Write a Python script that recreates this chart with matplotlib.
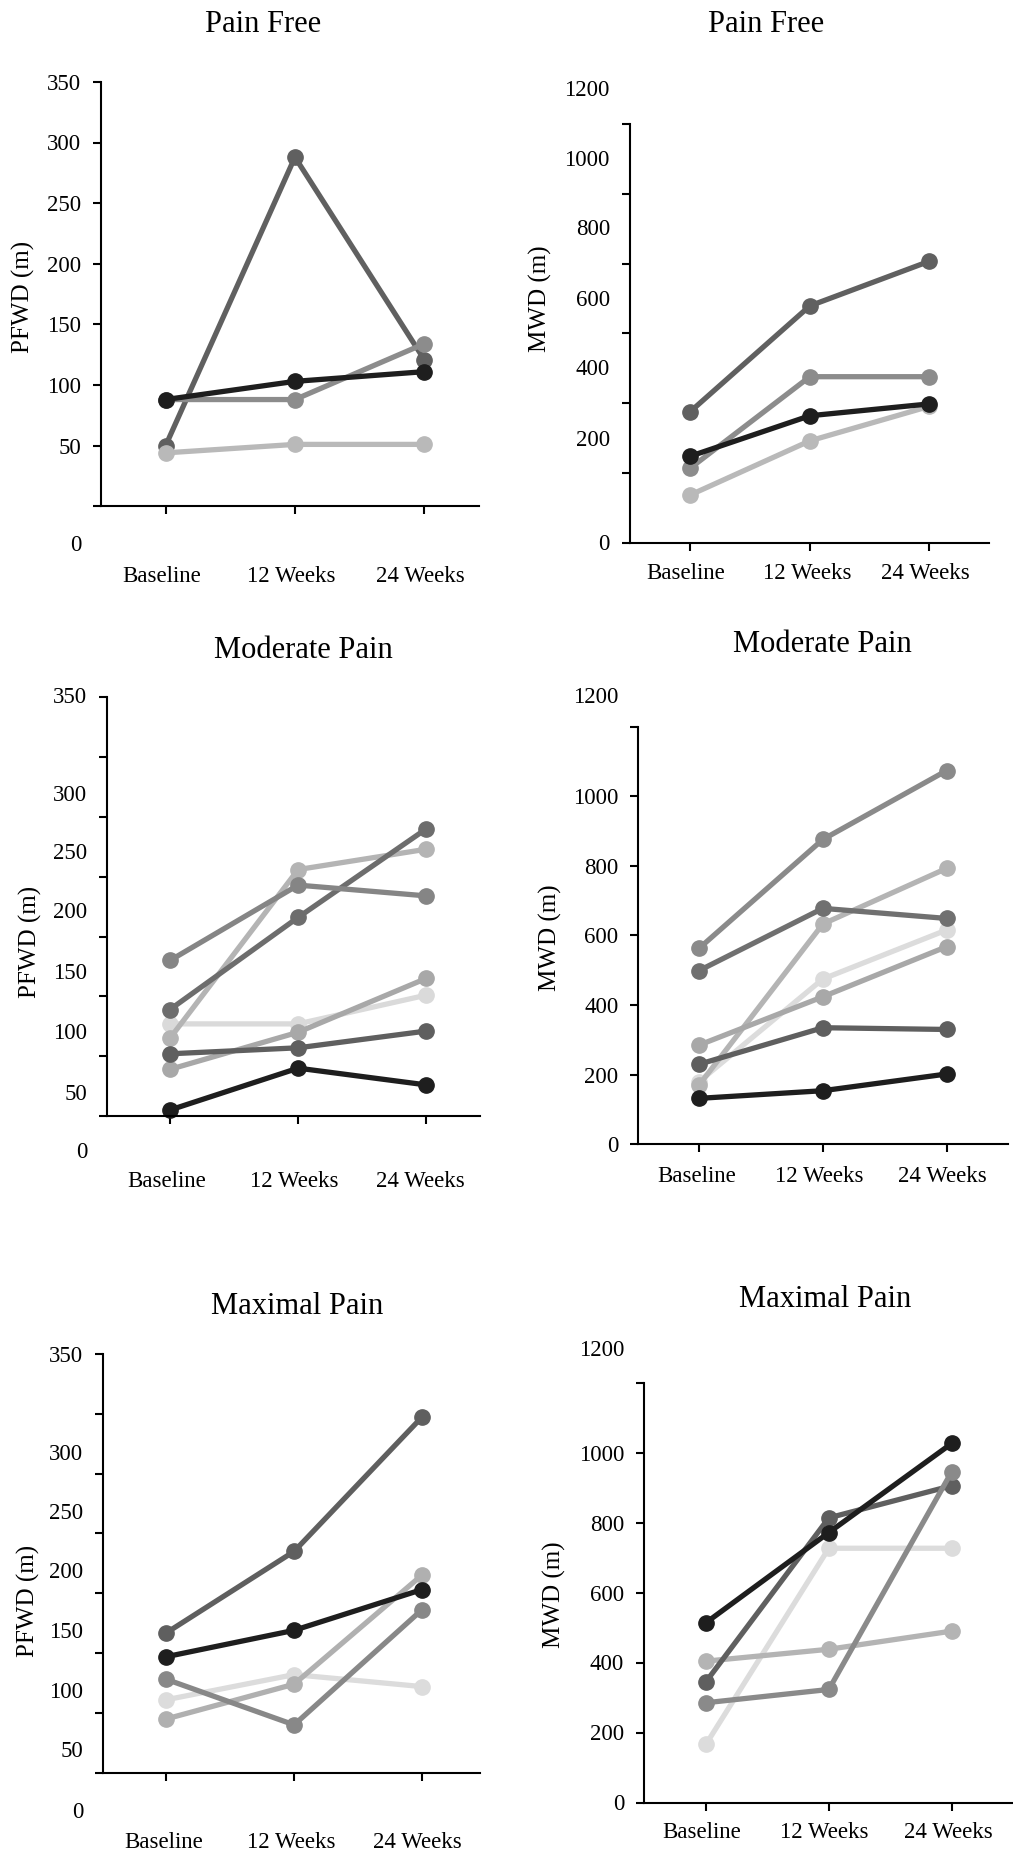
import matplotlib
matplotlib.use("Agg")
import matplotlib.pyplot as plt

plt.rcParams['font.family'] = ['Liberation Serif', 'DejaVu Serif']

W, H = 1013, 1851
timepoints = ['Baseline', '12 Weeks', '24 Weeks']

# ---- data (in units of the drawn tick scale) ----
pfwd_free = {
    '#606060': [50, 288, 121],
    '#8c8c8c': [88, 88, 134],
    '#1e1e1e': [88, 103, 111],
    '#b9b9b9': [44, 51, 51],
}
mwd_free = {
    '#606060': [376, 679, 807],
    '#8c8c8c': [214, 476, 476],
    '#b9b9b9': [137, 292, 391],
    '#1e1e1e': [248, 364, 398],
}
pfwd_moderate = {
    '#dadada': [77, 77, 101],
    '#a8a8a8': [39, 70, 115],
    '#b4b4b4': [65, 206, 223],
    '#5f5f5f': [52, 57, 71],
    '#6d6d6d': [89, 166, 240],
    '#858585': [130, 193, 184],
    '#1e1e1e': [5, 40, 26],
}
mwd_moderate = {
    '#dcdcdc': [180, 475, 616],
    '#b4b4b4': [170, 633, 793],
    '#a8a8a8': [285, 424, 568],
    '#5f5f5f': [230, 335, 330],
    '#707070': [499, 678, 649],
    '#8a8a8a': [563, 876, 1074],
    '#1e1e1e': [132, 154, 202],
}
pfwd_maximal = {
    '#dcdcdc': [61, 82, 72],
    '#b0b0b0': [45, 74, 165],
    '#888888': [78, 40, 136],
    '#5f5f5f': [117, 185, 297],
    '#1e1e1e': [97, 119, 153],
}
mwd_maximal = {
    '#dcdcdc': [167, 728, 728],
    '#b4b4b4': [405, 439, 491],
    '#5f5f5f': [346, 815, 907],
    '#8a8a8a': [286, 324, 947],
    '#1e1e1e': [515, 773, 1028],
}

pfwd_labels = ['350', '300', '250', '200', '150', '100', '50', '0']
mwd_labels = ['1200', '1000', '800', '600', '400', '200', '0']

# ---- layout, in pixels of the 1013x1851 output ----
panels = [
    dict(data=pfwd_free, title='Pain Free', ylabel='PFWD (m)', ymax=350, step=50,
         box=(101.4, 82, 479.3, 506.2), xlim=(-0.497, 2.426),
         title_xy=(263, 32), ylab_xy=(23.3, 296.6),
         tl_x=81.1, tl_y=[82, 142.8, 203.7, 264.5, 324.7, 385.5, 446, 543.4],
         xl_x=[161.9, 291.4, 420.1], xl_y=582.2),
    dict(data=mwd_free, title='Pain Free', ylabel='MWD (m)', ymax=1200, step=200,
         box=(629.5, 124.2, 989.4, 542.7), xlim=(-0.509, 2.503),
         title_xy=(766.5, 32), ylab_xy=(540.6, 299),
         tl_x=609.9, tl_y=[88.7, 158, 227.3, 298.3, 367.6, 438.6, 542.7],
         xl_x=[685.9, 807.2, 925.2], xl_y=578.8),
    dict(data=pfwd_moderate, title='Moderate Pain', ylabel='PFWD (m)', ymax=350, step=50,
         box=(106.7, 697.3, 480, 1116), xlim=(-0.494, 2.42),
         title_xy=(303, 657.7), ylab_xy=(30.7, 941.7),
         tl_x=87.3, tl_y=[695, 793.3, 851.7, 910, 971.7, 1031.7, 1092.3, 1150],
         xl_x=[166.3, 294.3, 420.7], xl_y=1186.7),
    dict(data=mwd_moderate, title='Moderate Pain', ylabel='MWD (m)', ymax=1200, step=200,
         box=(637.7, 726.7, 1008, 1144.3), xlim=(-0.495, 2.495),
         title_xy=(822, 651.7), ylab_xy=(550.5, 937.3),
         tl_x=618.3, tl_y=[695, 796, 866, 935.7, 1005, 1075, 1144.3],
         xl_x=[696.3, 819.2, 942.5], xl_y=1181.7),
    dict(data=pfwd_maximal, title='Maximal Pain', ylabel='PFWD (m)', ymax=350, step=50,
         box=(102.7, 1354, 480, 1772.7), xlim=(-0.5, 2.457),
         title_xy=(296.7, 1314.3), ylab_xy=(28.2, 1600.7),
         tl_x=83.3, tl_y=[1354, 1452.7, 1511.7, 1570.7, 1630.7, 1690.7, 1749.3, 1810],
         xl_x=[163.2, 291, 417.5], xl_y=1848),
    dict(data=mwd_maximal, title='Maximal Pain', ylabel='MWD (m)', ymax=1200, step=200,
         box=(644, 1383.3, 1011.7, 1802.7), xlim=(-0.504, 2.488),
         title_xy=(825.3, 1306.7), ylab_xy=(554.7, 1595),
         tl_x=624, tl_y=[1348.3, 1453.3, 1523.3, 1593.3, 1662.7, 1732.7, 1802.7],
         xl_x=[701.7, 824.7, 948.3], xl_y=1838.3),
]

TICK_FS = 16.5
LABEL_FS = 18
TITLE_FS = 22
DIGIT_HALF = 7.7   # px from visual centre of a digit to its baseline


def fx(x):
    return x / W


def fy(y):
    return 1 - y / H


fig = plt.figure(figsize=(W / 100, H / 100), dpi=100)

for p in panels:
    l, t, r, b = p['box']
    ax = fig.add_axes([fx(l), fy(b), (r - l) / W, (b - t) / H])

    xs = list(range(len(timepoints)))
    for color, vals in p['data'].items():
        ax.plot(xs, vals, color=color, lw=3.8, marker='o', ms=11,
                solid_capstyle='round', clip_on=False)

    ax.set_xlim(*p['xlim'])
    ax.set_ylim(0, p['ymax'])
    ax.set_xticks(xs)
    ax.set_xticklabels([])
    ax.set_yticks(range(0, p['ymax'] + 1, p['step']))
    ax.set_yticklabels([])
    for side in ('top', 'right'):
        ax.spines[side].set_visible(False)
    for side in ('left', 'bottom'):
        ax.spines[side].set_linewidth(1.5)
        ax.spines[side].set_color('black')
    ax.tick_params(direction='out', length=6, width=1.5, color='black')

    labels = pfwd_labels if p['ymax'] == 350 else mwd_labels
    for s, yc in zip(labels, p['tl_y']):
        fig.text(fx(p['tl_x']), fy(yc + DIGIT_HALF), s, ha='right', va='baseline',
                 fontsize=TICK_FS)
    for s, xc in zip(timepoints, p['xl_x']):
        fig.text(fx(xc), fy(p['xl_y']), s, ha='center', va='baseline', fontsize=TICK_FS)

    fig.text(fx(p['title_xy'][0]), fy(p['title_xy'][1]), p['title'],
             ha='center', va='baseline', fontsize=TITLE_FS)
    fig.text(fx(p['ylab_xy'][0]), fy(p['ylab_xy'][1]), p['ylabel'],
             ha='center', va='center', rotation=90, fontsize=LABEL_FS)

fig.savefig('out.png', dpi=100, facecolor='white')
